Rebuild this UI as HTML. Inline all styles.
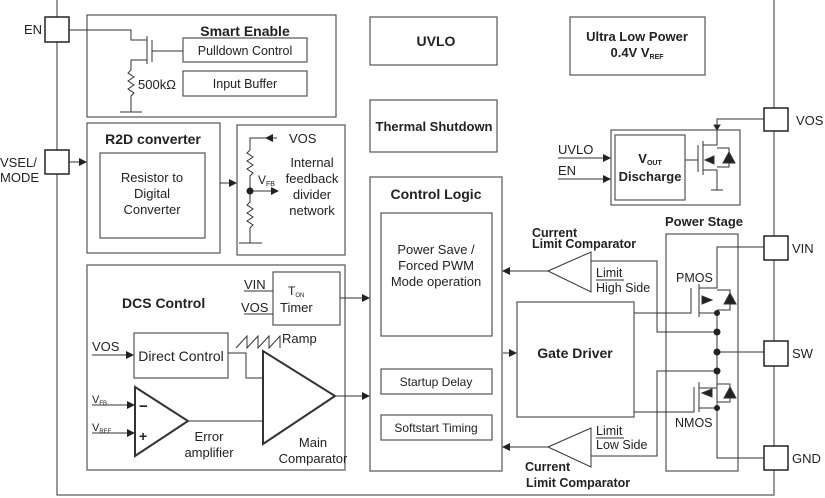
<!DOCTYPE html>
<html><head><meta charset="utf-8"><style>
body{margin:0;background:#fff}
svg{display:block;font-family:"Liberation Sans",Arial,sans-serif}
.b{font-weight:bold}
</style></head><body>
<svg width="825" height="498" viewBox="0 0 825 498" xmlns="http://www.w3.org/2000/svg">
<defs><marker id="a" markerWidth="8" markerHeight="8" refX="7" refY="4" orient="auto" markerUnits="userSpaceOnUse"><path d="M0,0 L8,4 L0,8 z" fill="#222"/></marker></defs>
<g fill="none" stroke="#555" stroke-width="1.2">
<rect x="57" y="-2" width="717" height="497"/>
<rect x="87" y="15" width="249" height="102"/>
<rect x="183" y="38" width="124" height="24"/>
<rect x="183" y="71" width="124" height="25"/>
<rect x="87" y="123" width="133" height="130"/>
<rect x="100" y="153" width="105" height="85"/>
<rect x="237" y="125" width="108" height="130"/>
<rect x="87" y="265" width="258" height="205"/>
<rect x="273" y="272" width="67" height="53"/>
<rect x="134" y="333" width="94" height="45"/>
<rect x="370" y="177" width="132" height="294"/>
<rect x="381" y="213" width="111" height="123"/>
<rect x="381" y="369" width="111" height="25"/>
<rect x="381" y="415" width="111" height="25"/>
<rect x="370" y="17" width="127" height="48"/>
<rect x="370" y="100" width="127" height="52"/>
<rect x="570" y="17" width="135" height="58"/>
<rect x="611" y="130" width="129" height="75"/>
<rect x="615" y="135" width="70" height="65"/>
<rect x="666" y="234" width="72" height="237"/>
<rect x="517" y="302" width="117" height="115"/>
</g>
<g fill="#fff" stroke="#222" stroke-width="1.5">
<rect x="45" y="17" width="24" height="25"/>
<rect x="45" y="150" width="24" height="24"/>
<rect x="764" y="108" width="24" height="23"/>
<rect x="764" y="236" width="24" height="24"/>
<rect x="764" y="341" width="24" height="25"/>
<rect x="764" y="446" width="24" height="24"/>
</g>
<g fill="none" stroke="#333" stroke-width="1">
<polyline points="69,30 131,30 131,40 147,40"/>
<line x1="147" y1="36" x2="147" y2="64"/><line x1="152" y1="40" x2="152" y2="62"/>
<line x1="152" y1="51" x2="183" y2="51"/>
<polyline points="147,60 131,60 131,70"/>
<polyline points="131,70 128,73 134,77 128,81 134,85 128,89 134,93 131,96 131,112"/>
<line x1="120" y1="112" x2="142" y2="112"/>
<line x1="69" y1="162" x2="86" y2="162" marker-end="url(#a)"/>
<line x1="220" y1="183" x2="236" y2="183" marker-end="url(#a)"/>
<polyline points="250,150 250,138 277,138"/>
<line x1="277" y1="138" x2="266" y2="138" marker-end="url(#a)"/>
<polyline points="250,150 247,153 253,157 247,161 253,165 247,169 253,173 250,176 250,202 247,205 253,209 247,213 253,217 247,221 253,225 250,228 250,243"/>
<line x1="239" y1="243" x2="262" y2="243"/>
<line x1="250" y1="191" x2="278" y2="191" marker-end="url(#a)"/>
<line x1="244" y1="291" x2="273" y2="291"/><line x1="244" y1="314" x2="273" y2="314"/>
<line x1="340" y1="298" x2="369" y2="298" marker-end="url(#a)"/>
<line x1="92" y1="355" x2="133" y2="355" marker-end="url(#a)"/>
<polyline points="228,353 246,353 246,378 263,378"/>
<polyline points="236,348 247,336 247,348 258,336 258,348 269,336 269,348 280,336 280,348"/>
<polygon points="263,351 263,444 335,396" stroke-width="2"/>
<line x1="335" y1="396" x2="369" y2="396" marker-end="url(#a)"/>
<polygon points="135,387 135,456 188,421" stroke-width="2"/>
<line x1="188" y1="421" x2="263" y2="421"/>
<line x1="92" y1="405" x2="134" y2="405" marker-end="url(#a)"/>
<line x1="92" y1="433" x2="134" y2="433" marker-end="url(#a)"/>
<line x1="503" y1="353" x2="516" y2="353" marker-end="url(#a)"/>
<polygon points="548,271 591,252 591,292"/>
<line x1="548" y1="271" x2="503" y2="271" marker-end="url(#a)"/>
<polygon points="548,447 591,428 591,467"/>
<line x1="548" y1="447" x2="503" y2="447" marker-end="url(#a)"/>
<polyline points="591,261 657,261 657,332 717,332"/>
<polyline points="591,456 657,456 657,371 717,371"/>
<polyline points="634,313 691,313 691,288"/>
<polyline points="634,412 694,412 694,387"/>
<polyline points="764,247 717,247 717,288 699,288"/><line x1="699" y1="284" x2="699" y2="317"/>
<polyline points="699,313 717,313 717,408 699,408"/><line x1="699" y1="382" x2="699" y2="412"/>
<polyline points="699,388 717,388"/>
<polyline points="717,408 717,458 764,458"/>
<line x1="717" y1="352" x2="764" y2="352"/>
<polyline points="717,290 730,290 730,310 717,310"/>
<polyline points="717,384 730,384 730,402 717,402"/>
<polygon points="724,304 736,304 730,293" fill="#222"/>
<polygon points="724,398 736,398 730,387" fill="#222"/>
<polygon points="712,300 702,296 702,304" fill="#222"/>
<polygon points="702,393 712,389 712,397" fill="#222"/>
<polyline points="764,119 717,119 717,130"/>
<polygon points="714,125 720,125 717,130" fill="#222"/>
<polyline points="717,130 717,145 703,145"/><line x1="703" y1="141" x2="703" y2="175"/><line x1="698" y1="145" x2="698" y2="172"/>
<line x1="685" y1="160" x2="698" y2="160"/>
<polyline points="703,170 717,170 717,190"/><line x1="711" y1="190" x2="723" y2="190"/>
<polyline points="717,148 729,148 729,167 717,167"/>
<polygon points="723,163 735,163 729,152" fill="#222"/>
<polygon points="705,160 714,156 714,164" fill="#222"/>
<line x1="558" y1="158" x2="610" y2="158" marker-end="url(#a)"/>
<line x1="558" y1="179" x2="610" y2="179" marker-end="url(#a)"/>
<line x1="596" y1="280" x2="624" y2="280"/>
<line x1="596" y1="438" x2="624" y2="438"/>
</g>
<g fill="#222"><circle cx="250" cy="191" r="3.5"/><circle cx="717" cy="313" r="3"/><circle cx="717" cy="332" r="3.5"/><circle cx="717" cy="352" r="3.5"/><circle cx="717" cy="371" r="3.5"/><circle cx="717" cy="408" r="3"/></g>
<g font-size="13" fill="#222">
<text x="24" y="34">EN</text>
<text x="0" y="167">VSEL/</text><text x="0" y="182">MODE</text>
<text x="796" y="125">VOS</text><text x="792" y="253">VIN</text><text x="792" y="358">SW</text><text x="792" y="463">GND</text>
<text x="245" y="36" class="b" text-anchor="middle" font-size="14">Smart Enable</text>
<text x="245" y="55" text-anchor="middle" font-size="12.5">Pulldown Control</text>
<text x="245" y="88" text-anchor="middle" font-size="12.5">Input Buffer</text>
<text x="138" y="89" font-size="13">500kΩ</text>
<text x="153" y="144" class="b" text-anchor="middle" font-size="14">R2D converter</text>
<text x="152" y="182" text-anchor="middle">Resistor to</text><text x="152" y="198" text-anchor="middle">Digital</text><text x="152" y="214" text-anchor="middle">Converter</text>
<text x="289" y="143">VOS</text>
<text x="312" y="167" text-anchor="middle">Internal</text><text x="312" y="183" text-anchor="middle">feedback</text><text x="312" y="199" text-anchor="middle">divider</text><text x="312" y="215" text-anchor="middle">network</text>
<text x="258" y="184" font-size="12">V<tspan font-size="7" dy="2">FB</tspan></text>
<text x="122" y="308" class="b" font-size="14">DCS Control</text>
<text x="244" y="289">VIN</text><text x="241" y="312">VOS</text>
<text x="288" y="295" font-size="12">T<tspan font-size="6" dy="2">ON</tspan></text><text x="280" y="312">Timer</text>
<text x="282" y="343">Ramp</text>
<text x="92" y="351">VOS</text>
<text x="181" y="361" text-anchor="middle" font-size="14">Direct Control</text>
<text x="92" y="403" font-size="11">V<tspan font-size="6" dy="2">FB</tspan></text>
<text x="92" y="431" font-size="11">V<tspan font-size="6" dy="2">REF</tspan></text>
<text x="139" y="411" class="b" font-size="15">−</text><text x="139" y="441" class="b" font-size="14">+</text>
<text x="209" y="441" text-anchor="middle">Error</text><text x="209" y="457" text-anchor="middle">amplifier</text>
<text x="313" y="447" text-anchor="middle">Main</text><text x="313" y="463" text-anchor="middle">Comparator</text>
<text x="436" y="46" class="b" text-anchor="middle" font-size="14">UVLO</text>
<text x="434" y="131" class="b" text-anchor="middle" font-size="13">Thermal Shutdown</text>
<text x="436" y="199" class="b" text-anchor="middle" font-size="14">Control Logic</text>
<text x="436" y="254" text-anchor="middle">Power Save /</text><text x="436" y="270" text-anchor="middle">Forced PWM</text><text x="436" y="286" text-anchor="middle">Mode operation</text>
<text x="436" y="386" text-anchor="middle" font-size="12">Startup Delay</text>
<text x="436" y="432" text-anchor="middle" font-size="12">Softstart Timing</text>
<text x="637" y="41" class="b" text-anchor="middle">Ultra Low Power</text>
<text x="637" y="57" class="b" text-anchor="middle">0.4V V<tspan font-size="7" dy="2">REF</tspan></text>
<text x="558" y="154">UVLO</text><text x="558" y="175">EN</text>
<text x="650" y="163" class="b" text-anchor="middle">V<tspan font-size="7" dy="2">OUT</tspan></text>
<text x="650" y="181" class="b" text-anchor="middle">Discharge</text>
<text x="704" y="226" class="b" text-anchor="middle">Power Stage</text>
<text x="532" y="237" class="b" font-size="12.5">Current</text><text x="532" y="248" class="b" font-size="12.5">Limit Comparator</text>
<text x="596" y="277" font-size="12.5">Limit</text><text x="596" y="292" font-size="12.5">High Side</text>
<text x="596" y="435" font-size="12.5">Limit</text><text x="596" y="449" font-size="12.5">Low Side</text>
<text x="525" y="471" class="b" font-size="12.5">Current</text><text x="526" y="487" class="b" font-size="12.5">Limit Comparator</text>
<text x="676" y="282" font-size="12.5">PMOS</text><text x="675" y="427" font-size="12.5">NMOS</text>
<text x="575" y="358" class="b" text-anchor="middle" font-size="14">Gate Driver</text>
</g>
</svg>
</body></html>
